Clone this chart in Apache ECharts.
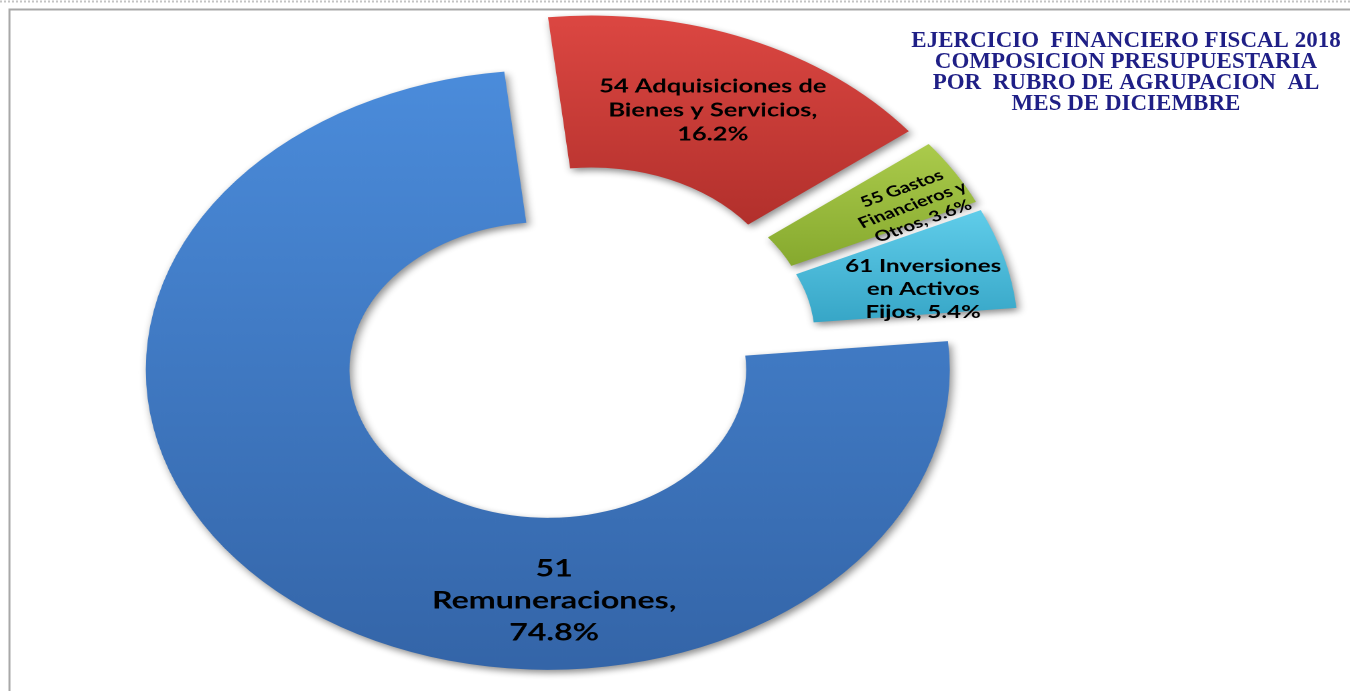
<!DOCTYPE html>
<html>
<head>
<meta charset="utf-8">
<script src="https://cdn.jsdelivr.net/npm/echarts@6/dist/echarts.min.js"></script>
<style>
  html, body { margin: 0; padding: 0; background: #ffffff; width: 1350px; height: 691px; overflow: hidden; }
  #pie { position: absolute; left: 0; top: 0; height: 691px; transform-origin: 0 0; }
  #overlay { position: absolute; left: 0; top: 0; width: 1350px; height: 691px; pointer-events: none; }
</style>
</head>
<body>
<div id="pie"></div>
<div id="overlay"></div>
<script>
// ---- data ----
const categories = ['51 Remuneraciones', '54 Adquisiciones de Bienes y Servicios', '55 Gastos Financieros y Otros', '61 Inversiones en Activos Fijos'];
const values = [74.8, 16.2, 3.6, 5.4];
const labelTemplates = [
  '51\nRemuneraciones,\n{d}%',
  '54 Adquisiciones de\nBienes y Servicios,\n{d}%',
  '55 Gastos\nFinancieros y\nOtros, {d}%',
  '61 Inversiones\nen Activos\nFijos, {d}%'
];
const titleLines = [
  'EJERCICIO  FINANCIERO FISCAL 2018',
  'COMPOSICION PRESUPUESTARIA',
  'POR  RUBRO DE AGRUPACION  AL',
  'MES DE DICIEMBRE'
];

// ---- styles ----
const SX = 1.34; // horizontal stretch of the doughnut (elliptical in reference)
const gradients = [
  ['#4b8cdb', '#3465a8'],
  ['#dc4742', '#b2302c'],
  ['#abcb4c', '#86a92e'],
  ['#60cdea', '#37a6c7']
];
const labelStyles = [
  { fontSize: 24, lineHeight: 32 },
  { fontSize: 19, lineHeight: 24 },
  { fontSize: 15, lineHeight: 18, rotate: 26 },
  { fontSize: 18, lineHeight: 23 }
];
const labelShift = [[148, 55], [2, 4], [30, 9], [10, 12]];

const pieW = 1350 / SX;
const pieDiv = document.getElementById('pie');
pieDiv.style.width = pieW + 'px';
pieDiv.style.transform = 'scaleX(' + SX + ')';

const pieChart = echarts.init(pieDiv, null, { renderer: 'canvas', devicePixelRatio: 2 });
pieChart.setOption({
  animation: false,
  series: [{
    type: 'pie',
    center: [429, 345],
    radius: [148, 300],
    startAngle: 5.5,
    clockwise: true,
    selectedMode: 'multiple',
    selectedOffset: 32,
    avoidLabelOverlap: false,
    percentPrecision: 1,
    emphasis: { disabled: true },
    label: {
      show: true,
      position: 'inside',
      color: '#000',
      fontFamily: 'Lato',
      fontWeight: 'bold',
      align: 'center'
    },
    labelLine: { show: false },
    labelLayout: function (p) {
      const s = labelShift[p.dataIndex];
      return { dx: s[0], dy: s[1] };
    },
    data: categories.map(function (name, i) {
      const ls = labelStyles[i];
      const style = {
        color: {
          type: 'linear', x: 0, y: 0, x2: 0, y2: 1,
          colorStops: [{ offset: 0, color: gradients[i][0] }, { offset: 1, color: gradients[i][1] }]
        },
        shadowBlur: 7,
        shadowOffsetX: 2,
        shadowOffsetY: 3,
        shadowColor: 'rgba(0,0,0,0.45)'
      };
      return {
        name: name,
        value: values[i],
        selected: true,
        itemStyle: style,
        select: { itemStyle: style },
        label: {
          formatter: labelTemplates[i],
          fontSize: ls.fontSize,
          lineHeight: ls.lineHeight,
          rotate: ls.rotate || 0
        }
      };
    })
  }]
});

const overlay = echarts.init(document.getElementById('overlay'), null, { renderer: 'canvas' });
overlay.setOption({
  animation: false,
  graphic: [
    {
      type: 'line',
      shape: { x1: 0, y1: 1.5, x2: 1350, y2: 1.5 },
      style: { stroke: '#c4c4c4', lineWidth: 2, lineDash: [2, 2] }
    },
    {
      type: 'rect',
      shape: { x: 9.5, y: 9.5, width: 1400, height: 720 },
      style: { fill: 'none', stroke: '#a8a8a8', lineWidth: 2 }
    },
    {
      type: 'text',
      x: 1126,
      y: 31,
      style: {
        text: titleLines.join('\n'),
        align: 'center',
        verticalAlign: 'top',
        fontFamily: 'Liberation Serif',
        fontWeight: 'bold',
        fontSize: 23,
        lineHeight: 20.8,
        fill: '#1f1f86'
      }
    }
  ]
});
</script>
</body>
</html>
